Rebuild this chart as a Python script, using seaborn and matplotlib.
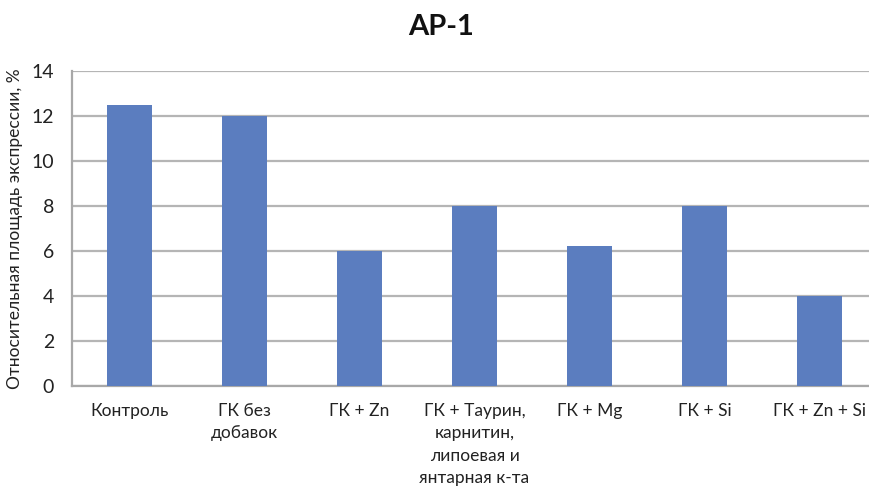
import matplotlib
matplotlib.use("Agg")
import matplotlib.pyplot as plt
import seaborn as sns
import pandas as pd

categories = [
    "Контроль",
    "ГК без\nдобавок",
    "ГК + Zn",
    "ГК + Таурин,\nкарнитин,\nлипоевая и\nянтарная к-та",
    "ГК + Mg",
    "ГК + Si",
    "ГК + Zn + Si",
]
values = [12.5, 12.0, 6.0, 8.0, 6.2, 8.0, 4.0]
yticks = [0, 2, 4, 6, 8, 10, 12, 14]

sns.set_theme(style="white")
plt.rcParams["font.family"] = ["Lato", "DejaVu Sans"]

df = pd.DataFrame({"cat": categories, "val": values})

fig = plt.figure(figsize=(8.69, 4.9), dpi=100)
ax = fig.add_axes([72 / 869, 1 - 386 / 490, (869 - 72) / 869, (386 - 71) / 490])

sns.barplot(data=df, x="cat", y="val", color="#5B7DBF", width=0.39,
            saturation=1, linewidth=0, ax=ax, zorder=3)

ax.set_ylim(0, 14)
ax.set_xlim(-0.5, 6.43)
ax.set_yticks(yticks)
ax.set_yticklabels([str(t) for t in yticks], fontsize=14, color="#222222")
ax.grid(axis="y", color="#b5b5b5", linewidth=1.6, zorder=0)
ax.set_axisbelow(True)

for side in ["top", "right"]:
    ax.spines[side].set_visible(False)
for side in ["left", "bottom"]:
    ax.spines[side].set_color("#a8a8a8")
    ax.spines[side].set_linewidth(1.6)

ax.tick_params(axis="y", length=0, pad=13)
ax.tick_params(axis="x", length=0, pad=12)
ax.set_xticks(range(len(categories)))
ax.set_xticklabels(categories, fontsize=12.5, va="top", linespacing=1.5,
                   color="#222222")
ax.set_xlabel("")
ax.set_ylabel("Относительная площадь экспрессии, %", fontsize=12.5,
              labelpad=6, color="#222222")

fig.text(441 / 869, 1 - 27 / 490, "AP-1", ha="center", va="center",
         fontsize=21, fontweight="bold", color="#111111")

fig.savefig("out.png", dpi=100)
